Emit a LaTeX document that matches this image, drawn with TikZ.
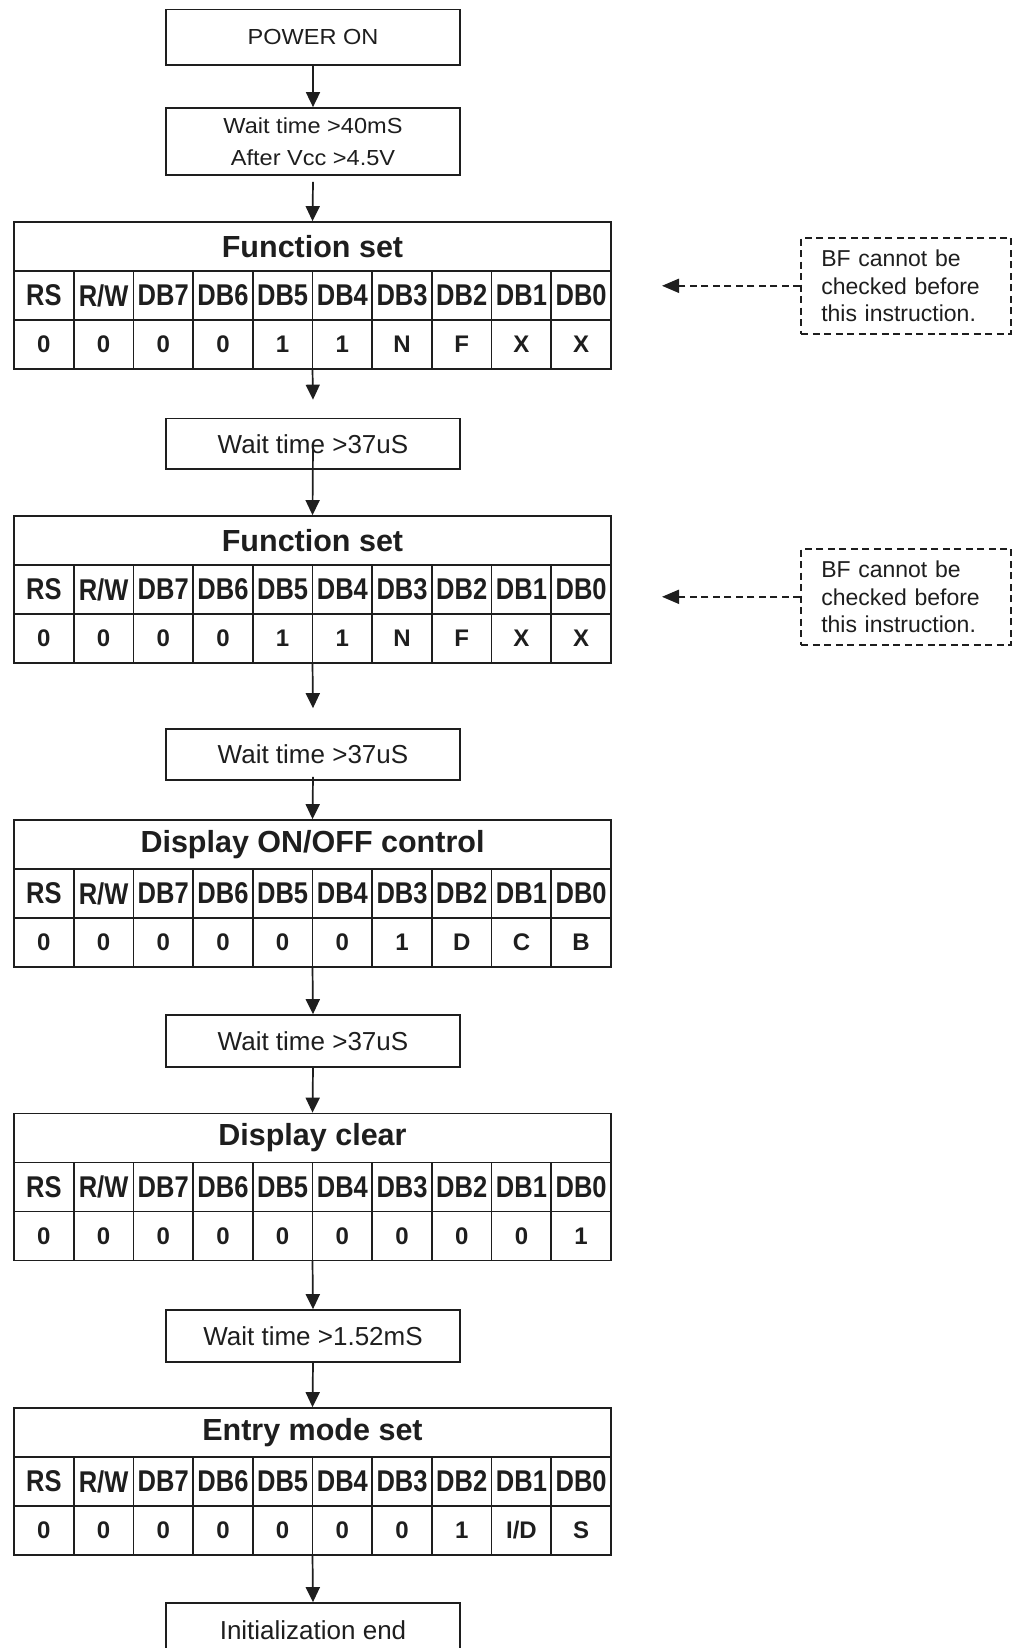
\documentclass[tikz,border=0pt]{standalone}
\usepackage{fontspec}
\usepackage{graphicx}
\setmainfont{Liberation Sans}
\usetikzlibrary{arrows.meta}
\definecolor{ink}{HTML}{1E1E1E}
\newcommand\widetext[1]{\scalebox{1.08}[1]{#1}}
\newcommand\narrowtext[1]{\scalebox{0.85}[1]{#1}}
\tikzset{
  base/.style={draw=ink, line width=1.7pt, text=ink, inner sep=0pt},
  textbox/.style={base, minimum width=294pt},
  smalltext/.style={font=\fontsize{21.8}{32}\selectfont},
  bigtext/.style={font=\fontsize{26}{30}\selectfont},
  titlebox/.style={base, minimum width=597pt, minimum height=49pt, font=\fontsize{30.5}{34}\selectfont\bfseries},
  headcell/.style={base, minimum width=59.7pt, minimum height=49pt, font=\fontsize{30}{34}\selectfont\bfseries},
  valcell/.style={base, minimum width=59.7pt, minimum height=49pt, font=\fontsize{24}{28}\selectfont\bfseries},
  note/.style={draw=ink, line width=1.8pt, dash pattern=on 7pt off 4.5pt, text=ink, align=left,
    inner xsep=20pt, inner ysep=0pt, text width=170pt, minimum height=96.4pt,
    font=\fontsize{23}{27.3}\selectfont},
  arr/.style={draw=ink, line width=1.7pt, -{Triangle[width=14pt,length=15pt]}},
  darr/.style={draw=ink, line width=1.8pt, dash pattern=on 7pt off 4.5pt, -{Triangle[width=14pt,length=17pt]}},
}
\newcommand\regtable[4]{%
  \node[titlebox] (#1) at (312.5,{#2+24.5}) {#3};
  \foreach \h [count=\i] in {RS,R/W,DB7,DB6,DB5,DB4,DB3,DB2,DB1,DB0}
    \node[headcell] (#1h\i) at ({14+59.7*\i-29.85},{#2+73.5}) {\narrowtext{\h}};
  \foreach \v [count=\i] in {#4}
    \node[valcell] (#1v\i) at ({14+59.7*\i-29.85},{#2+122.5}) {\v};
  \coordinate (#1bot) at (312.5,{#2+147});
}
\begin{document}
\begin{tikzpicture}[x=1pt,y=-1pt]
\path[use as bounding box, fill=white] (0,0) rectangle (1020,1648);

\node[textbox, minimum height=55.5pt, smalltext] (pon) at (313,37.25) {\widetext{POWER ON}};
\node[textbox, minimum height=67pt, smalltext, align=center] (w1) at (313,141.5) {\widetext{Wait time >40mS}\\\widetext{After Vcc >4.5V}};

\regtable{t1}{222}{Function set}{0,0,0,0,1,1,N,F,X,X}
\node[textbox, minimum height=50.5pt, bigtext] (w2) at (313,443.75) {Wait time >37uS};
\regtable{t2}{516}{Function set}{0,0,0,0,1,1,N,F,X,X}
\node[textbox, minimum height=51pt, bigtext] (w3) at (313,754.5) {Wait time >37uS};
\regtable{t3}{820}{Display ON/OFF control}{0,0,0,0,0,0,1,D,C,B}
\node[textbox, minimum height=52pt, bigtext] (w4) at (313,1041) {Wait time >37uS};
\regtable{t4}{1113.5}{Display clear}{0,0,0,0,0,0,0,0,0,1}
\node[textbox, minimum height=52pt, bigtext] (w5) at (313,1336) {Wait time >1.52mS};
\regtable{t5}{1408}{Entry mode set}{0,0,0,0,0,0,0,1,I/D,S}
\node[textbox, minimum height=54pt, bigtext] (iend) at (313,1630) {Initialization end};

\node[note] (bf1) at (906.25,285.8) {BF cannot be\\checked before\\this instruction.};
\node[note] (bf2) at (906.25,596.8) {BF cannot be\\checked before\\this instruction.};
\coordinate (bf1tip) at (662,285.8);
\coordinate (bf2tip) at (662,596.8);

\draw[arr] (pon.south) -- (w1.north);
\draw[arr] ([yshift=-6pt]w1.south) -- (t1.north);
\draw[arr] (t1bot) -- ([yshift=18pt]w2.north);
\draw[arr] ([yshift=-3pt]w2.center) -- (t2.north);
\draw[arr] (t2bot) -- ([yshift=20pt]w3.north);
\draw[arr] ([yshift=4pt]w3.south) -- (t3.north);
\draw[arr] (t3bot) -- (w4.north);
\draw[arr] (w4.south) -- (t4.north);
\draw[arr] (t4bot) -- (w5.north);
\draw[arr] (w5.south) -- (t5.north);
\draw[arr] (t5bot) -- (iend.north);

\draw[darr] (bf1.west) -- (bf1tip);
\draw[darr] (bf2.west) -- (bf2tip);
\end{tikzpicture}
\end{document}
